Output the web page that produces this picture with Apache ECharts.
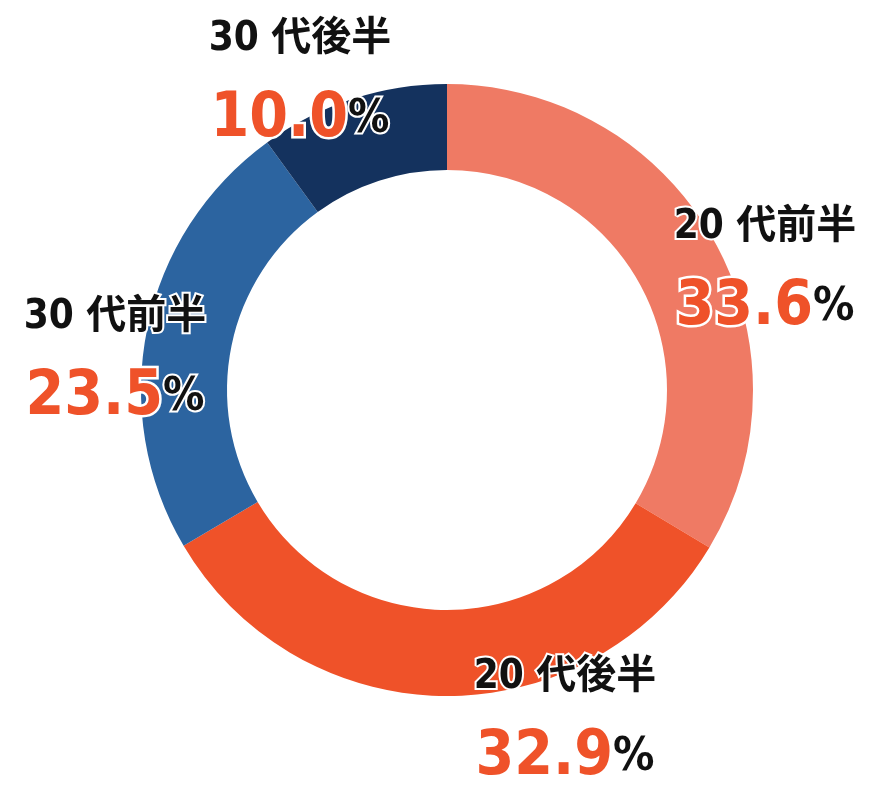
<!DOCTYPE html>
<html><head><meta charset="utf-8">
<script src="https://cdn.jsdelivr.net/npm/echarts@6/dist/echarts.min.js"></script>
<style>html,body{margin:0;padding:0;background:#fff}#c{width:883px;height:811px}</style>
</head><body><div id="c"></div>
<script>
const categories = ['20 代前半', '20 代後半', '30 代前半', '30 代後半'];
const values = [33.6, 32.9, 23.5, 10.0];
const colors = ['#EF7A64', '#EF5229', '#2C64A0', '#14325E'];
const labelPos = [[765, 268], [565, 718], [115, 358], [300, 80]];

const chart = echarts.init(document.getElementById('c'));
chart.setOption({
  animation: false,
  series: [{
    type: 'pie',
    center: [447, 390],
    radius: [220, 306],
    startAngle: 90,
    clockwise: true,
    data: categories.map((n, i) => ({ name: n, value: values[i], itemStyle: { color: colors[i] } })),
    labelLine: { show: false },
    label: {
      show: true,
      position: 'outside',
      overflow: 'none',
      width: 400,
      formatter: p => '{n|' + p.name + '}\n{v|' + p.value.toFixed(1) + '}{p|%}',
      rich: {
        n: { fontSize: 40, fontWeight: 'bold', color: '#111', fontFamily: 'DejaVu Sans Condensed, Noto Sans CJK JP', textBorderColor: '#fff', textBorderWidth: 4, lineHeight: 80, align: 'center' },
        v: { fontSize: 62, fontWeight: 'bold', color: '#EF5229', fontFamily: 'DejaVu Sans Condensed, DejaVu Sans', textBorderColor: '#fff', textBorderWidth: 5, lineHeight: 80 },
        p: { fontSize: 46, fontWeight: 'bold', color: '#111', fontFamily: 'DejaVu Sans Condensed, DejaVu Sans', textBorderColor: '#fff', textBorderWidth: 4, lineHeight: 80 }
      }
    },
    labelLayout: function (params) {
      const q = labelPos[params.dataIndex];
      return { x: q[0], y: q[1], align: 'center', verticalAlign: 'middle', moveOverlap: false };
    }
  }]
});
</script></body></html>
